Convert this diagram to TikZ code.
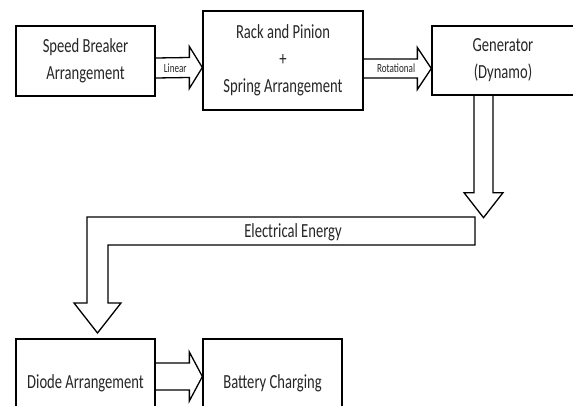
\documentclass[tikz,border=0pt]{standalone}
\usepackage{fontspec}
\setmainfont[FakeStretch=0.73]{Carlito}
\usetikzlibrary{calc}
% outlined block arrow, left to right: start, tip, shaft half width, head half width, head length
\newcommand\blockarrowh[5]{%
	\draw ($(#1)+(0,#3)$)--($(#2)+(-#5,#3)$)--($(#2)+(-#5,#4)$)--(#2)--($(#2)+(-#5,-#4)$)--($(#2)+(-#5,-#3)$)--($(#1)+(0,-#3)$);}
\tikzset{blk/.style={draw, inner sep=0pt, align=center, font=\fontsize{20}{27}\selectfont},
	lbl/.style={inner sep=0pt, font=\fontsize{12.5}{14}\selectfont}}
\begin{document}
\begin{tikzpicture}[x=1pt,y=1pt, line width=1.3pt, line join=miter, text=black!85]
	\useasboundingbox (0,0) rectangle (573,405);
	\clip (0,0) rectangle (573,405);
	% boxes
	\node[blk, minimum width=139, minimum height=70] (sb) at (85.5,344) {Speed Breaker\\Arrangement};
	\node[blk, minimum width=160, minimum height=99] (rp) at (283,344.5) {Rack and Pinion\\+\\Spring Arrangement};
	\node[blk, minimum width=142, minimum height=69] (gen) at (503,344.5) {Generator\\(Dynamo)};
	\node[blk, minimum width=139, minimum height=88] (dio) at (85.5,22) {Diode Arrangement};
	\node[blk, minimum width=139, minimum height=88] (bat) at (272.5,22) {Battery Charging};
	% top row arrows
	\path (sb.east) ++(0,-7) coordinate (l1) (rp.west) ++(0,-7) coordinate (l2);
	\blockarrowh{l1}{l2}{10}{21}{13}
	\node[lbl] (lin) at ($(l1)!0.42!(l2)$) {Linear};
	\path (rp.east) ++(0,-8) coordinate (r1) (gen.west) ++(0,-8) coordinate (r2);
	\blockarrowh{r1}{r2}{9.5}{21}{14}
	\node[lbl] (rot) at ($(r1)!0.48!(r2)$) {Rotational};
	% generator down
	\path (gen.south) ++(-19.5,0) coordinate (g1) ++(0,-122) coordinate (g2);
	\draw ($(g1)+(-9.5,0)$)--($(g2)+(-9.5,25)$)--($(g2)+(-19.5,25)$)--(g2)--($(g2)+(19.5,25)$)--($(g2)+(9.5,25)$)--($(g1)+(9.5,0)$);
	% electrical energy band
	\coordinate (e1) at (475,188);
	\coordinate (e2) at (97.5,72);
	\draw (e1)--(87,188)--(87,102)--(74,102)--(e2)--(121,102)--(108,102)--(108,160)--(475,160)--cycle;
	\node[font=\fontsize{20}{24}\selectfont] (el) at (293,173) {Electrical Energy};
	% bottom arrow
	\path (dio.east) ++(0,6.5) coordinate (d1) (bat.west) ++(0,6.5) coordinate (d2);
	\blockarrowh{d1}{d2}{13.5}{24.5}{13}
\end{tikzpicture}
\end{document}
